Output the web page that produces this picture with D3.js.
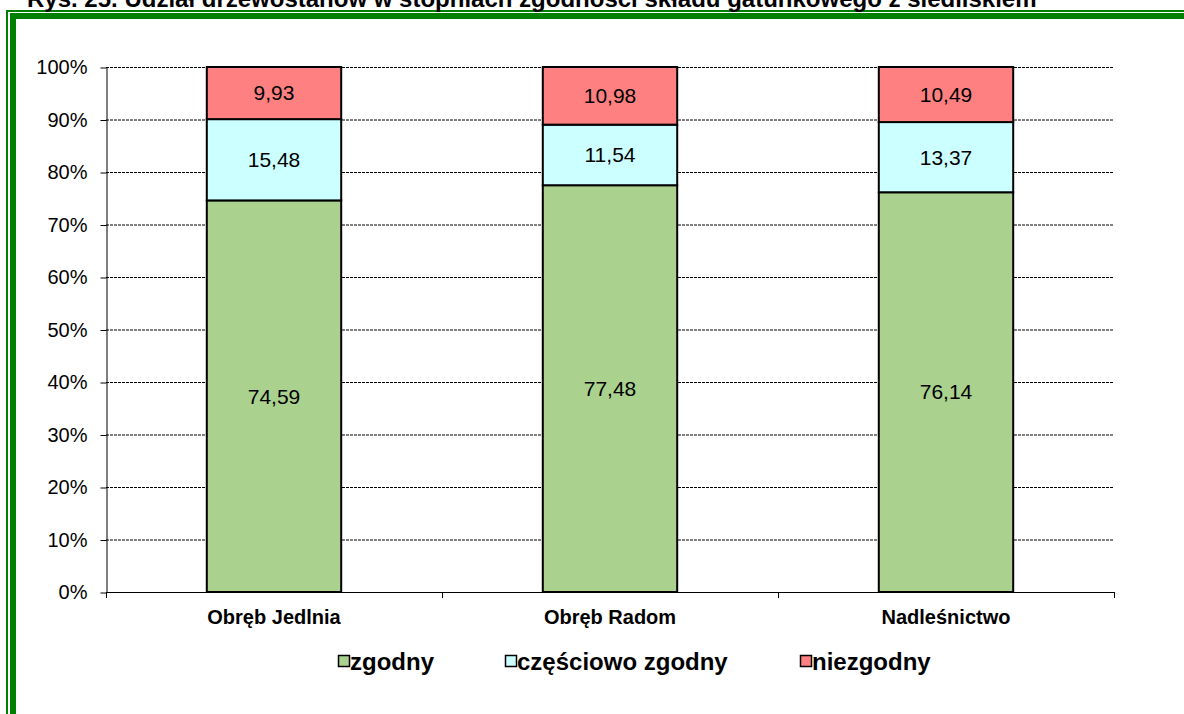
<!DOCTYPE html>
<html>
<head>
<meta charset="utf-8">
<script src="https://cdn.jsdelivr.net/npm/d3@7"></script>
<style>
  body { margin: 0; background: #fff; }
  svg { display: block; font-family: Arial, "Liberation Sans", sans-serif; }
</style>
</head>
<body>
<svg id="chart" width="1184" height="714"></svg>
<script>
// Data
var categories = ["Obręb Jedlnia", "Obręb Radom", "Nadleśnictwo"];
var seriesNames = ["zgodny", "częściowo zgodny", "niezgodny"];
var zgodny = [74.59, 77.48, 76.14];
var czesciowo = [15.48, 11.54, 13.37];
var niezgodny = [9.93, 10.98, 10.49];
var yTicks = [0, 0.1, 0.2, 0.3, 0.4, 0.5, 0.6, 0.7, 0.8, 0.9, 1.0];
var colors = ["#aad18e", "#ccffff", "#ff8080"];
var title = "Rys. 25. Udział drzewostanów w stopniach zgodności składu gatunkowego z siedliskiem";

var svg = d3.select("#chart");

// green double frame (runs off the right/bottom edge)
svg.append("rect").attr("x", 7).attr("y", 11).attr("width", 1300).attr("height", 900)
  .attr("fill", "none").attr("stroke", "#008000").attr("stroke-width", 2);
svg.append("rect").attr("x", 13).attr("y", 16).attr("width", 1300).attr("height", 900)
  .attr("fill", "none").attr("stroke", "#008000").attr("stroke-width", 6);

// title, mostly cut off at the top like in the source
svg.append("text").attr("x", 27).attr("y", 7)
  .attr("font-size", 24).attr("font-weight", "bold").attr("fill", "#000")
  .text(title);

var margin = {left: 106, right: 1114, top: 67, bottom: 592};

var x = d3.scaleBand().domain(categories)
  .range([margin.left, margin.right])
  .paddingInner(0.6).paddingOuter(0.3);

var y = d3.scaleLinear().domain([0, 1]).range([margin.bottom, margin.top]);

// gridlines
svg.append("g").selectAll("line").data(yTicks.slice(1)).join("line")
  .attr("x1", margin.left).attr("x2", margin.right)
  .attr("y1", d => y(d) + 0.5).attr("y2", d => y(d) + 0.5)
  .attr("stroke", "#000").attr("stroke-width", 1)
  .attr("stroke-dasharray", "3,1");

// y axis
var yAxis = d3.axisLeft(y).tickValues(yTicks).tickFormat(d3.format(".0%")).tickSize(6).tickSizeOuter(0);
var gy = svg.append("g").attr("transform", "translate(" + (margin.left + 0.5) + ",0.5)").call(yAxis);
gy.selectAll("text").attr("font-size", 20).attr("fill", "#000").attr("x", -19)
  .attr("font-family", "Arial, 'Liberation Sans', sans-serif");
gy.selectAll("line").attr("stroke", "#000");
gy.select(".domain").attr("stroke", "#000");

// stacked data
var table = categories.map(function (c, i) {
  return {cat: c, zgodny: zgodny[i], czesciowo: czesciowo[i], niezgodny: niezgodny[i]};
});
var keys = ["zgodny", "czesciowo", "niezgodny"];
var stack = d3.stack().keys(keys)(table);

var layers = svg.append("g").selectAll("g").data(stack).join("g")
  .attr("fill", (d, i) => colors[i]);

layers.selectAll("rect").data(d => d).join("rect")
  .attr("x", d => x(d.data.cat))
  .attr("y", d => y(d[1] / 100))
  .attr("width", x.bandwidth())
  .attr("height", d => y(d[0] / 100) - y(d[1] / 100))
  .attr("stroke", "#000").attr("stroke-width", 2);

// value labels
layers.selectAll("text").data(d => d.map(v => ({v: v, key: d.key}))).join("text")
  .attr("x", d => x(d.v.data.cat) + x.bandwidth() / 2)
  .attr("y", d => y((d.v[0] + d.v[1]) / 200))
  .attr("dy", "0.35em")
  .attr("text-anchor", "middle")
  .attr("font-size", 21).attr("fill", "#000")
  .text(d => d3.format(".2f")(d.v.data[d.key]).replace(".", ","));

// x axis (ticks at category boundaries)
var xAxisLine = svg.append("g");
xAxisLine.append("line").attr("x1", margin.left).attr("x2", margin.right)
  .attr("y1", margin.bottom + 0.5).attr("y2", margin.bottom + 0.5).attr("stroke", "#000");
var step = x.step();
var bounds = d3.range(categories.length + 1).map(i => margin.left + i * step);
xAxisLine.selectAll(".tk").data(bounds).join("line").attr("class", "tk")
  .attr("x1", d => Math.round(d) + 0.5).attr("x2", d => Math.round(d) + 0.5)
  .attr("y1", margin.bottom).attr("y2", margin.bottom + 6).attr("stroke", "#000");
xAxisLine.selectAll("text").data(categories).join("text")
  .attr("x", d => x(d) + x.bandwidth() / 2)
  .attr("y", 617).attr("dy", "0.35em")
  .attr("text-anchor", "middle").attr("font-size", 20).attr("font-weight", "bold").attr("fill", "#000")
  .text(d => d);

// legend
var legendX = [338, 505, 800];
var legend = svg.append("g").selectAll("g").data(seriesNames).join("g")
  .attr("transform", (d, i) => "translate(" + legendX[i] + ",662)");
legend.append("rect").attr("x", 0.5).attr("y", -6.5).attr("width", 11).attr("height", 11)
  .attr("fill", (d, i) => colors[i]).attr("stroke", "#000").attr("stroke-width", 1.5);
legend.append("text").attr("x", 12).attr("dy", "0.35em")
  .attr("font-size", 24).attr("font-weight", "bold").attr("fill", "#000")
  .text(d => d);
</script>
</body>
</html>
